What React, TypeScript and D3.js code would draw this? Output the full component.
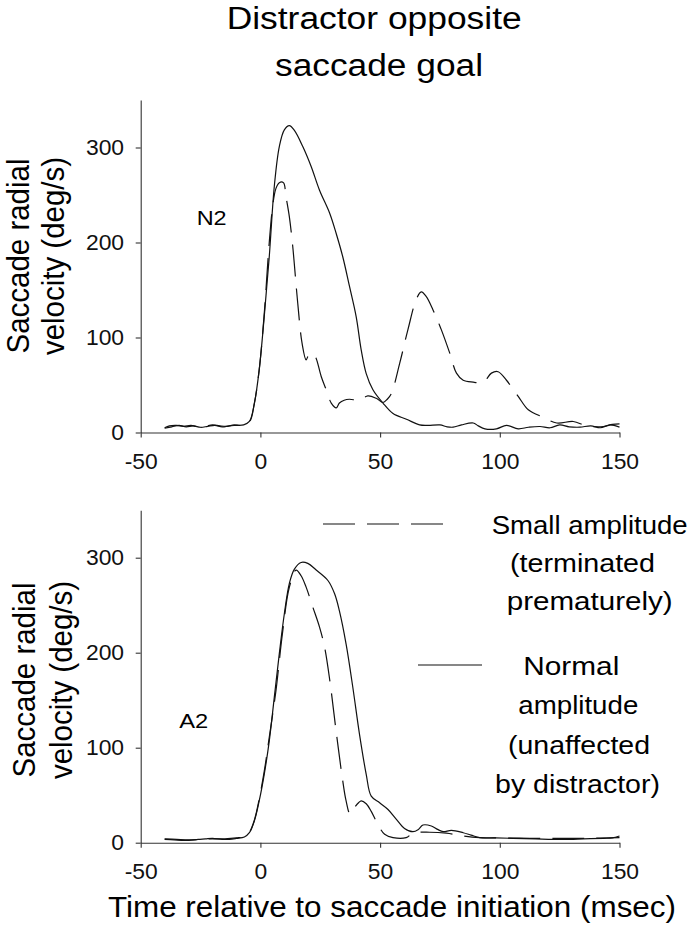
import React, { useEffect, useRef } from 'react';
import * as d3 from 'd3';

// axis ticks
const xTicks = [-50, 0, 50, 100, 150];
const yTicks = [0, 100, 200, 300];

// N2 panel: [time (msec), velocity (deg/s)]
const n2Normal: [number, number][] = [
  [-40, 4.5], [-37, 6], [-34, 7.5], [-31, 6], [-28, 7], [-25, 5.5], [-22, 6.5], [-19, 7.5], [-16, 6],
  [-13, 7], [-10, 7.5], [-7, 8], [-4.6, 11.6], [-2.5, 31], [-0.5, 66], [1.6, 122], [3.7, 185],
  [5.8, 259], [7.9, 301], [10, 318.6], [12.1, 323], [14.2, 318], [17.7, 301], [21.2, 280], [24.7, 255],
  [28.9, 231], [31.6, 210], [34.4, 185], [37.2, 154], [40, 122], [42.1, 87], [44.2, 62], [47, 45],
  [51.2, 31], [55.4, 20], [61, 14], [66.5, 8], [70, 7.5], [75, 8], [78, 6], [80.5, 5.6], [84, 8],
  [88.9, 10], [91, 7], [93.8, 3.9], [98.6, 3.9], [102.8, 7.4], [107.7, 3.9], [112, 5.5], [116.8, 6.3],
  [121, 5], [125, 8], [129, 6], [133.5, 5.6], [138, 7], [142, 5], [146, 8], [150, 5.6],
];
const n2Small: [number, number][] = [
  [-40, 5], [-38, 7], [-35, 7.5], [-32, 6.5], [-29, 7.5], [-26, 6], [-23, 6.5], [-20, 8], [-17, 7],
  [-14, 6.5], [-11, 8], [-8, 7.5], [-4.6, 11], [-2.5, 31], [-0.5, 66], [1.6, 125], [3.7, 200],
  [5.2, 240], [6.5, 257], [7.9, 263], [9.6, 263], [10.7, 248], [12.1, 227], [13.5, 196], [15.6, 136],
  [17.4, 94], [19.1, 76.5], [20.2, 82], [21.2, 83.5], [22.3, 82], [23.3, 78], [25.4, 59], [27.5, 45],
  [29.6, 31], [31.7, 26], [33, 31], [35, 34], [37.2, 35], [41.4, 34], [44.9, 38.6], [48.4, 36],
  [51.2, 31.6], [53, 35], [54.7, 41], [58.2, 73], [61.6, 108], [65.1, 140], [67.2, 148], [69.3, 143],
  [72.1, 129], [75.6, 108], [79.1, 83.5], [81.9, 62.5], [84.7, 55], [88.9, 53], [93, 52.6], [96.5, 62.5],
  [99.3, 64], [102.8, 55], [107.7, 38], [111.9, 24], [118.2, 16], [123.8, 10], [130.7, 11.6],
  [136.3, 7], [143.3, 6.3], [147, 8.5], [150, 9],
];

// A2 panel
const a2Normal: [number, number][] = [
  [-40, 3.5], [-36, 3], [-32, 2.5], [-29.8, 2.5], [-26, 3.5], [-23, 4], [-20, 4.6], [-16, 3.5],
  [-13, 3.5], [-10, 4.5], [-6.7, 6], [-4.6, 10.5], [-2.5, 23], [-0.5, 44], [1.6, 72], [3.7, 107],
  [5.8, 153], [7.9, 199], [10, 241], [12.1, 273], [14.2, 288], [17, 295], [19.8, 294], [23.3, 287],
  [28.2, 276], [31, 262], [33, 244], [35.8, 209], [38.6, 163.6], [41.4, 114], [44.2, 72], [46.3, 49],
  [49.8, 42], [53.3, 35], [56.8, 24.6], [60.2, 15], [63.7, 11.6], [66, 14], [67.9, 18.6], [71.4, 17.6],
  [74, 14], [76.3, 11.6], [79.8, 13], [84.7, 10.5], [88, 8], [91.6, 5.3], [98, 5], [105.6, 4.6],
  [115, 4], [126.5, 3.5], [135, 4], [143.3, 4.6], [147, 5], [150, 7],
];
const a2Small: [number, number][] = [
  [-40, 4], [-35, 3.5], [-30, 3], [-25, 3.5], [-20, 4], [-15, 4], [-10, 5], [-6.7, 6.5], [-4.6, 11],
  [-2.5, 24], [-0.5, 46], [1.6, 75], [3.7, 111], [6.5, 160], [9.2, 220], [12.1, 269], [14.9, 287],
  [17, 281], [19.1, 269], [21.9, 248], [24.7, 227], [26.8, 206], [29, 170.6], [31.6, 118], [34.4, 65],
  [35.8, 44], [37.5, 30], [39.3, 37], [41, 42], [42.1, 44], [44.2, 41], [46.3, 33], [49.1, 19],
  [51.9, 8.8], [55.4, 5.3], [60.9, 5.3], [63.7, 10], [70.7, 11], [77.7, 10], [84.7, 7], [91.6, 5.3],
  [100, 5], [112.6, 4.6], [125, 4.5], [133.5, 4.6], [142, 4.8], [150, 5.3],
];

// texts
const titleLines = ['Distractor opposite', 'saccade goal'];
const yLabelLines = ['Saccade radial', 'velocity (deg/s)'];
const xLabel = 'Time relative to saccade initiation (msec)';
const legendSmall = ['Small amplitude', '(terminated', 'prematurely)'];
const legendNormal = ['Normal', 'amplitude', '(unaffected', 'by distractor)'];

const FONT = "'Liberation Sans', Arial, sans-serif";

export default function App() {
  const ref = useRef<SVGSVGElement>(null);

  useEffect(() => {
    draw();
  }, []);

  function draw() {
    const svg = d3.select(ref.current);
    svg.selectAll('*').remove();
    svg.append('rect').attr('width', 690).attr('height', 925).attr('fill', '#fff');

    const x = d3.scaleLinear().domain([-50, 150]).range([140.7, 619.5]);

    const panels = [
      { name: 'N2', normal: n2Normal, small: n2Small, bottom: 432.5, label: [196.7, 225, 30], yl: [28.5, 64, 256] },
      { name: 'A2', normal: a2Normal, small: a2Small, bottom: 842.7, label: [179.3, 728, 29], yl: [35, 72, 680] },
    ];

    panels.forEach((p) => {
      const y = d3.scaleLinear().domain([0, 350]).range([p.bottom, p.bottom - 332.5]);
      const g = svg.append('g');

      const xAxis = d3.axisBottom(x).tickValues(xTicks).tickFormat((d) => String(d)).tickSize(5).tickSizeOuter(0).tickPadding(16);
      const yAxis = d3.axisLeft(y).tickValues(yTicks).tickFormat((d) => String(d)).tickSize(5).tickSizeOuter(0).tickPadding(11);

      const gx = g.append('g').attr('transform', `translate(0,${p.bottom})`).call(xAxis);
      const gy = g.append('g').attr('transform', `translate(${x.range()[0]},0)`).call(yAxis);
      [gx, gy].forEach((ax) => {
        ax.select('.domain').attr('stroke', '#333').attr('stroke-width', 1.1);
        ax.selectAll('.tick line').attr('stroke', '#333').attr('stroke-width', 1.1);
        ax.selectAll('.tick text')
          .attr('fill', '#111')
          .style('font-family', FONT)
          .style('font-size', '22px');
      });
      gx.selectAll('.tick text').attr('transform', 'scale(1.04,1)');
      gy.selectAll('.tick text').attr('transform', 'scale(1.04,1)');

      const line = d3
        .line<[number, number]>()
        .x((d) => x(d[0]))
        .y((d) => y(d[1]))
        .curve(d3.curveCatmullRom);

      g.append('path')
        .attr('d', line(p.normal))
        .attr('fill', 'none')
        .attr('stroke', '#111')
        .attr('stroke-width', 1.2);
      g.append('path')
        .attr('d', line(p.small))
        .attr('fill', 'none')
        .attr('stroke', '#111')
        .attr('stroke-width', 1.2)
        .attr('stroke-dasharray', '32 12');

      // panel label
      g.append('text')
        .attr('x', p.label[0])
        .attr('y', p.label[1])
        .attr('textLength', p.label[2])
        .attr('lengthAdjust', 'spacingAndGlyphs')
        .style('font-family', FONT)
        .style('font-size', '21px')
        .text(p.name);

      // y axis title
      yLabelLines.forEach((t, i) => {
        g.append('text')
          .attr('transform', `translate(${p.yl[i]},${p.yl[2]}) scale(1.06,1) rotate(-90)`)
          .attr('text-anchor', 'middle')
          .style('font-family', FONT)
          .style('font-size', '29.5px')
          .text(t);
      });
    });

    // title
    const titlePos = [
      [226.7, 29, 295],
      [275, 76, 208],
    ];
    titleLines.forEach((t, i) => {
      svg.append('text')
        .attr('x', titlePos[i][0])
        .attr('y', titlePos[i][1])
        .attr('textLength', titlePos[i][2])
        .attr('lengthAdjust', 'spacingAndGlyphs')
        .style('font-family', FONT)
        .style('font-size', '31px')
        .text(t);
    });

    // x axis title
    svg.append('text')
      .attr('x', 108)
      .attr('y', 917)
      .attr('textLength', 568)
      .attr('lengthAdjust', 'spacingAndGlyphs')
      .style('font-family', FONT)
      .style('font-size', '30px')
      .text(xLabel);

    // legend
    svg.append('line')
      .attr('x1', 323).attr('x2', 445).attr('y1', 524).attr('y2', 524)
      .attr('stroke', '#111').attr('stroke-width', 1.2).attr('stroke-dasharray', '32 12');
    svg.append('line')
      .attr('x1', 418).attr('x2', 482).attr('y1', 665).attr('y2', 665)
      .attr('stroke', '#111').attr('stroke-width', 1.2);

    const smallPos = [
      [491.7, 534, 196],
      [510, 572, 145],
      [506.7, 610, 166],
    ];
    const normalPos = [
      [523.3, 675, 96],
      [518.3, 714, 120],
      [508, 754, 142],
      [495, 793, 165],
    ];
    const legendText = (lines: string[], pos: number[][]) =>
      lines.forEach((t, i) => {
        svg.append('text')
          .attr('x', pos[i][0])
          .attr('y', pos[i][1])
          .attr('textLength', pos[i][2])
          .attr('lengthAdjust', 'spacingAndGlyphs')
          .style('font-family', FONT)
          .style('font-size', '25.5px')
          .text(t);
      });
    legendText(legendSmall, smallPos);
    legendText(legendNormal, normalPos);
  }

  return (
    <svg
      ref={ref}
      width={690}
      height={925}
      style={{ position: 'absolute', left: 0, top: 0, display: 'block' }}
    />
  );
}
